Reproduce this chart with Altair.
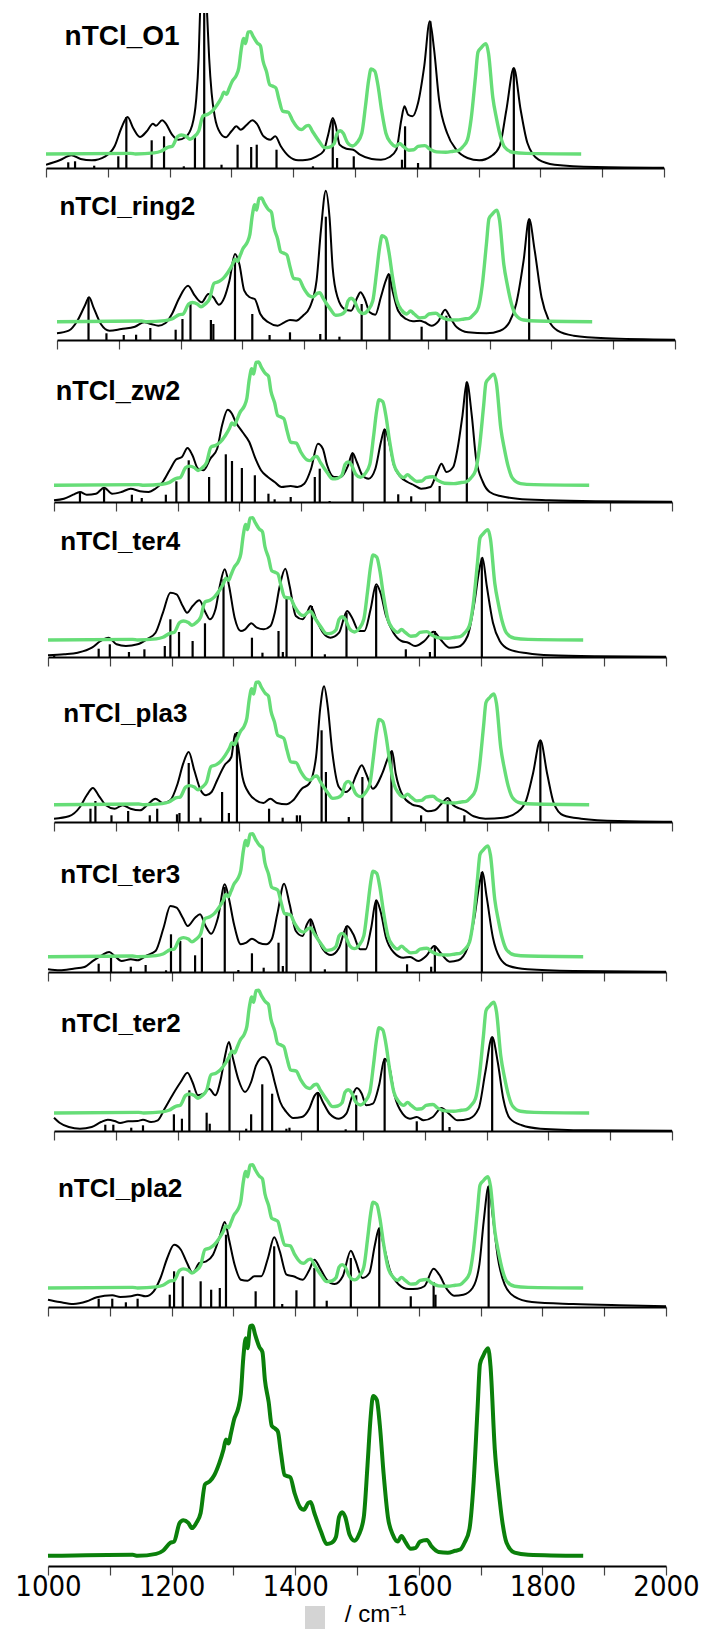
import altair as alt
import pandas as pd

# ---------------- experimental spectrum (bottom panel, a.u.) ----------------
exp_wn = [1000, 1137, 1145, 1175, 1186, 1198, 1204, 1213, 1219, 1227,
          1233, 1240, 1247, 1254, 1262, 1269, 1277, 1284, 1288, 1292,
          1296, 1301, 1308, 1312, 1316, 1320, 1323, 1327, 1331, 1335,
          1342, 1347, 1351, 1357, 1362, 1368, 1372, 1377, 1383, 1392,
          1399, 1409, 1414, 1421, 1425, 1431, 1442, 1451, 1459, 1466,
          1471, 1476, 1481, 1488, 1496, 1503, 1511, 1517, 1522, 1526,
          1532, 1537, 1543, 1550, 1558, 1566, 1572, 1578, 1587, 1595,
          1602, 1613, 1621, 1632, 1647, 1659, 1667, 1674, 1682, 1688,
          1695, 1699, 1704, 1712, 1716, 1723, 1729, 1735, 1742, 1755,
          1777, 1866]
exp_int = [0, 1, 0, 1.7, 4.3, 11, 12, 27.7, 30, 27.7,
           23.3, 27.7, 36, 60, 62.7, 67.7, 77.7, 89.3, 97.7, 94.3,
           102.7, 114.3, 124.3, 136, 166, 182.7, 174.3, 192.7, 193.3, 186,
           175.3, 171, 147.7, 129.3, 109.3, 106.7, 104.3, 86, 67.7, 66,
           52.7, 40, 38.7, 44.3, 45.3, 36, 20, 10, 11, 16,
           32.7, 36.7, 32.7, 17.7, 12.7, 17.7, 32.7, 76, 116, 134.3,
           131, 109.3, 69.3, 32.7, 17.7, 12, 16.7, 12, 6, 6.7,
           12, 13.3, 7.7, 3.3, 2.7, 4.3, 5.3, 11, 22.7, 56,
           122.7, 161, 167.7, 174.3, 159.3, 89.3, 56, 29.3, 11, 2.7,
           1, 0]

# ---------------- computed spectra ----------------
o1_wn = [1000, 1022, 1041, 1056, 1074, 1096, 1111, 1122, 1132, 1141,
         1152, 1163, 1173, 1178, 1188, 1194, 1204, 1214, 1226, 1236,
         1243, 1247, 1249, 1252, 1255, 1258, 1261, 1264, 1268, 1273,
         1282, 1291, 1300, 1308, 1315, 1325, 1334, 1341, 1352, 1363,
         1371, 1380, 1393, 1408, 1423, 1438, 1449, 1456, 1464, 1469,
         1475, 1486, 1497, 1508, 1527, 1542, 1556, 1567, 1575, 1580,
         1586, 1593, 1602, 1612, 1621, 1628, 1636, 1649, 1664, 1682,
         1701, 1720, 1734, 1745, 1757, 1768, 1779, 1797, 1823, 1890,
         2000]
o1_int = [3.3, 7.7, 12.7, 9, 7.7, 11.7, 21.7, 40, 51, 40,
          31, 36.7, 44.3, 42.3, 47.7, 44.3, 33.3, 28.3, 31, 41.7,
          68.3, 110, 150, 190, 210, 190, 150, 110, 75, 51.7,
          35, 30.7, 36.7, 41.7, 38.3, 43.3, 47.7, 44.3, 31.7, 28.3,
          31.7, 21.7, 11.7, 7.7, 8.3, 11.7, 16.7, 31.7, 50, 41.7,
          23.3, 19.3, 18.3, 13.3, 9, 8.3, 11, 18.3, 48.3, 61.7,
          53.3, 51.7, 65, 101.7, 146.7, 118.3, 68.3, 35, 18.3, 10,
          7.7, 11.7, 21.7, 58.3, 100, 58.3, 25, 8.3, 3.3, 1,
          0.3]
o1_stick_wn = [1036, 1047, 1078, 1117, 1130, 1171, 1191, 1223, 1241, 1256, 1284, 1310,
               1332, 1341, 1373, 1432, 1464, 1471, 1498, 1576, 1581, 1602, 1622, 1757]
o1_stick_int = [5.7, 6.7, 2.3, 11.7, 51, 27.7, 31.7, 1.7, 31.7, 210, 3.3, 23.3,
                21, 23.3, 18.3, 1.7, 48.3, 10, 11.7, 8.3, 41.7, 5, 146.7, 100]

ring2_wn = [1000, 1019, 1033, 1045, 1052, 1059, 1071, 1085, 1104, 1126,
            1141, 1152, 1164, 1175, 1186, 1197, 1212, 1223, 1234, 1245,
            1253, 1262, 1271, 1279, 1288, 1295, 1303, 1312, 1320, 1329,
            1342, 1357, 1368, 1377, 1387, 1398, 1409, 1420, 1427, 1435,
            1441, 1446, 1454, 1465, 1476, 1486, 1491, 1498, 1506, 1515,
            1524, 1532, 1537, 1543, 1552, 1565, 1576, 1587, 1595, 1606,
            1617, 1628, 1636, 1647, 1665, 1695, 1717, 1732, 1743, 1755,
            1764, 1773, 1784, 1796, 1810, 1836, 1888, 2000]
ring2_int = [6.7, 9.3, 19.3, 34.3, 42.7, 32.7, 16, 9.3, 11, 13.3,
             17.7, 16, 14.3, 16.7, 26, 41, 54.3, 44.3, 37.7, 46,
             42.7, 35.3, 42.7, 59.3, 86, 76, 49.3, 42.7, 41, 26,
             17.7, 14.3, 17.7, 20, 19.3, 24.3, 32.7, 59.3, 109.3, 149.3,
             122.7, 72.7, 42.7, 31, 29.3, 42.7, 47.7, 41, 27.7, 25.3,
             42.7, 59.3, 66, 49.3, 29.3, 21, 18.7, 19.3, 17.7, 14.3,
             18.7, 30.3, 22.7, 12.7, 7.7, 6.7, 9.3, 17.7, 36, 79.3,
             121, 89.3, 42.7, 19.3, 9.3, 4.3, 1.7, 0.3]
ring2_stick_wn = [1051, 1080, 1108, 1128, 1151, 1192, 1203, 1216, 1249, 1253, 1288,
                  1316, 1344, 1377, 1426, 1435, 1457, 1493, 1538, 1590, 1630, 1764]
ring2_stick_int = [42.7, 6.7, 5, 5.3, 12, 10.3, 21, 37.7, 20, 16, 77.7,
                   26, 5, 7.7, 6, 123.3, 3.3, 36, 66, 13.3, 24.3, 121]

zw2_wn = [1000, 1016, 1031, 1042, 1053, 1068, 1081, 1094, 1109, 1124,
          1139, 1153, 1164, 1176, 1187, 1198, 1207, 1216, 1224, 1233,
          1242, 1253, 1264, 1272, 1281, 1288, 1294, 1305, 1316, 1326,
          1335, 1346, 1357, 1368, 1383, 1394, 1405, 1416, 1427, 1435,
          1442, 1453, 1464, 1476, 1483, 1490, 1499, 1509, 1520, 1529,
          1535, 1542, 1550, 1561, 1572, 1583, 1594, 1609, 1620, 1627,
          1635, 1646, 1653, 1661, 1668, 1676, 1683, 1694, 1705, 1724,
          1750, 1801, 1876, 2000]
zw2_int = [1.7, 3.3, 7.3, 10, 7.3, 8.3, 14.3, 8.3, 10, 13.3,
           10.7, 10, 13.3, 20, 31.7, 42.7, 45, 54, 46.7, 33.3,
           31.7, 43.3, 53.3, 76.7, 92.3, 88.3, 80, 70, 60, 43.3,
           31.7, 25, 20, 15, 16, 15, 18.3, 33.3, 58.3, 53.3,
           36.7, 25, 25, 36.7, 49, 40, 26.7, 23.3, 33.3, 60,
           72.7, 60, 36.7, 25, 20, 16.7, 13.3, 15, 30, 38.3,
           30, 35, 53.3, 86.7, 120, 86.7, 43.3, 20, 10, 5.7,
           3.3, 1.7, 0.7, 0.3]
zw2_stick_wn = [1042, 1081, 1126, 1142, 1181, 1198, 1218, 1251, 1278, 1288, 1304, 1325,
                1347, 1357, 1383, 1422, 1430, 1446, 1483, 1535, 1557, 1578, 1624, 1668]
zw2_stick_int = [10, 13.3, 7.3, 4, 7.3, 20.7, 41.7, 25, 47.7, 41, 34, 26.7,
                 8.3, 2.7, 5, 25, 33.3, 1, 48.3, 72.7, 7.7, 5.7, 16, 120]

ter4_wn = [1000, 1026, 1048, 1071, 1085, 1098, 1111, 1126, 1145, 1160,
           1174, 1186, 1198, 1208, 1218, 1225, 1234, 1245, 1255, 1262,
           1271, 1278, 1286, 1293, 1302, 1312, 1319, 1329, 1338, 1349,
           1360, 1367, 1375, 1384, 1391, 1401, 1412, 1419, 1425, 1434,
           1445, 1457, 1471, 1484, 1492, 1503, 1512, 1522, 1531, 1538,
           1547, 1559, 1572, 1583, 1594, 1609, 1624, 1635, 1650, 1664,
           1679, 1690, 1698, 1703, 1710, 1720, 1731, 1746, 1776, 1813,
           1887, 2000]
ter4_int = [1.7, 2.7, 4.3, 9.3, 16, 19.3, 12.7, 11, 12.7, 17.7,
            24.3, 44.3, 64.3, 62.7, 51, 44.3, 51, 56.7, 44.3, 37.7,
            47.7, 71, 87.7, 71, 39.3, 26, 27.7, 33.7, 29.3, 27.7,
            31, 44.3, 71, 88.3, 71, 41, 37.7, 44.3, 51, 37.7,
            24.3, 19.3, 24.3, 46, 39.3, 26, 26, 47.7, 72.7, 64.3,
            41, 24.3, 16, 14.3, 11, 16, 25.3, 17.7, 9.3, 10.3,
            21, 54.3, 87.7, 99.3, 71, 34.3, 16, 7.7, 3.7, 1.7,
            0.7, 0.3]
ter4_stick_wn = [1010, 1082, 1100, 1131, 1156, 1189, 1198, 1212, 1234, 1254, 1284, 1330,
                 1347, 1373, 1380, 1386, 1427, 1448, 1483, 1531, 1579, 1618, 1626, 1702]
ter4_stick_int = [1.7, 8.3, 12.7, 5, 7.7, 11, 37.7, 25, 16, 33.7, 77.7, 19.3,
                  4.3, 26, 5, 61, 51, 2.7, 44.3, 71, 7.7, 5, 26, 99.3]

pla3_wn = [1000, 1024, 1042, 1053, 1063, 1072, 1084, 1098, 1111, 1124,
           1139, 1153, 1164, 1176, 1188, 1200, 1209, 1218, 1227, 1237,
           1246, 1255, 1264, 1276, 1287, 1293, 1298, 1305, 1316, 1327,
           1339, 1350, 1361, 1376, 1387, 1401, 1413, 1424, 1431, 1437,
           1443, 1450, 1461, 1472, 1481, 1490, 1498, 1505, 1516, 1531,
           1541, 1547, 1553, 1564, 1579, 1594, 1605, 1616, 1627, 1637,
           1646, 1657, 1664, 1679, 1698, 1727, 1750, 1764, 1775, 1787,
           1798, 1809, 1824, 1853, 1913, 2000]
pla3_int = [3.3, 5.7, 15, 26.7, 34, 26.7, 16.7, 13.3, 16.7, 13.3,
            11.7, 18.3, 23.3, 19, 21.7, 38.3, 58.3, 70, 51.7, 32.3,
            26.7, 30, 41.7, 56.7, 65, 88.3, 75, 45, 28.3, 21.7,
            19, 23.3, 19, 17.7, 21.7, 33.3, 38.3, 65, 115, 135.7,
            115, 71.7, 35, 30, 35, 48.3, 56.7, 48.3, 33.3, 48.3,
            65, 71, 48.3, 26.7, 17.7, 15, 10.7, 11.7, 18.3, 24,
            16.7, 13.3, 11.7, 5.7, 3.3, 4.3, 10, 21.7, 48.3, 81.7,
            48.3, 18.3, 6.7, 3.3, 1, 0.3]
pla3_stick_wn = [1059, 1067, 1093, 1120, 1155, 1167, 1199, 1203, 1218, 1237, 1272, 1283, 1296,
                 1348, 1370, 1393, 1398, 1433, 1440, 1477, 1499, 1546, 1594, 1637, 1664, 1787]
pla3_stick_int = [13.3, 21, 6.7, 11, 6.7, 13.3, 7.7, 9, 59, 4.3, 30, 9, 90,
                  13.3, 4.3, 6.7, 6.7, 91.7, 50, 5, 45, 70, 6.7, 21.7, 6.7, 81.7]

ter3_wn = [1000, 1019, 1041, 1059, 1074, 1087, 1099, 1108, 1119, 1134,
           1145, 1160, 1174, 1187, 1198, 1208, 1218, 1226, 1238, 1246,
           1255, 1264, 1275, 1286, 1293, 1301, 1312, 1321, 1330, 1341,
           1353, 1362, 1371, 1382, 1391, 1401, 1412, 1419, 1425, 1434,
           1445, 1458, 1471, 1484, 1494, 1505, 1514, 1523, 1531, 1538,
           1547, 1560, 1575, 1586, 1599, 1612, 1625, 1635, 1650, 1664,
           1679, 1690, 1698, 1703, 1710, 1720, 1731, 1746, 1776, 1850,
           2000]
ter3_int = [2.7, 1.7, 3.3, 5, 11.7, 16.7, 20, 16, 11, 12.7,
            11.7, 16.7, 21, 44.3, 66, 64.3, 54.3, 46, 54.3, 57.7,
            46, 38.3, 54.3, 87.7, 72.7, 47.7, 27.7, 29.3, 33.3, 29.3,
            27.7, 32.7, 57.7, 88.3, 67.7, 41, 36, 47.7, 52.7, 37.7,
            22.7, 17, 24.3, 46, 37.7, 22.7, 22.7, 44.3, 71.7, 61,
            34.3, 19.3, 14.3, 15, 11, 16, 26, 19.3, 10.3, 11.7,
            24.3, 54.3, 87.7, 100, 74.3, 34.3, 14.3, 6, 2.7, 1,
            0.3]
ter3_stick_wn = [1082, 1102, 1134, 1158, 1191, 1199, 1214, 1238, 1249, 1286, 1308, 1330,
                 1349, 1373, 1380, 1386, 1425, 1448, 1483, 1531, 1581, 1620, 1626, 1702]
ter3_stick_int = [8.3, 15, 5.3, 7, 1.7, 37.7, 31, 16.7, 34.3, 85, 2, 18.7,
                  4.3, 29.3, 6, 59.3, 52.7, 2.7, 46, 71.7, 7.7, 5.3, 26, 100]

ter2_wn = [1000, 1009, 1024, 1042, 1061, 1076, 1087, 1098, 1107, 1120,
           1135, 1144, 1157, 1168, 1179, 1193, 1205, 1216, 1224, 1233,
           1242, 1251, 1261, 1270, 1277, 1283, 1289, 1298, 1309, 1319,
           1327, 1339, 1350, 1357, 1366, 1376, 1387, 1401, 1413, 1422,
           1427, 1435, 1446, 1461, 1473, 1483, 1490, 1498, 1505, 1516,
           1526, 1535, 1542, 1551, 1564, 1576, 1587, 1598, 1613, 1627,
           1639, 1653, 1672, 1687, 1698, 1709, 1718, 1727, 1738, 1757,
           1787, 1861, 2000]
ter2_int = [13.3, 8.3, 4, 2.3, 4, 9, 11.3, 10, 8, 9.7,
            10, 11.3, 9, 10.7, 22.3, 37.3, 49, 58.3, 49, 35.7,
            37.3, 42.3, 35.7, 52.3, 75.7, 89, 74, 52.3, 39, 49,
            65.7, 74, 65.7, 49, 29, 19, 13, 14, 22.3, 35.7,
            38.3, 29, 17.3, 12.3, 17.3, 35.7, 43, 37.3, 25.7, 27.3,
            45.7, 72.3, 65.7, 35.7, 17.3, 12.3, 14, 10.7, 14, 23,
            17.3, 10.7, 12.3, 22.3, 59, 94, 69, 32.3, 12.3, 5.7,
            2.3, 0.7, 0.3]
ter2_stick_wn = [1083, 1096, 1125, 1144, 1194, 1207, 1219, 1247, 1252, 1284, 1311, 1319,
                 1337, 1353, 1376, 1381, 1427, 1472, 1489, 1535, 1587, 1629, 1640, 1709]
ter2_stick_int = [6.3, 6.3, 3.3, 5.7, 16.7, 12.3, 40.7, 18.3, 7.3, 77.3, 2.3, 16.7,
                  46.7, 37.3, 2.3, 3.3, 39, 1.7, 35.7, 72.3, 9.7, 22.3, 4, 94]

pla2_wn = [1000, 1019, 1041, 1063, 1079, 1104, 1117, 1134, 1145, 1158,
           1171, 1182, 1193, 1204, 1215, 1225, 1234, 1245, 1256, 1267,
           1278, 1286, 1293, 1302, 1312, 1323, 1334, 1345, 1356, 1366,
           1375, 1386, 1397, 1412, 1423, 1431, 1440, 1451, 1464, 1477,
           1490, 1497, 1509, 1520, 1529, 1536, 1543, 1553, 1568, 1583,
           1598, 1609, 1624, 1633, 1646, 1657, 1672, 1687, 1698, 1705,
           1713, 1720, 1728, 1739, 1754, 1783, 1850, 1924, 2000]
pla2_int = [7.3, 5, 3, 5.7, 9.7, 11.7, 10, 10.7, 12.3, 10.7,
            15.7, 29, 49, 62.3, 57.3, 44, 34, 44, 45.7, 52.3,
            70.7, 85, 67.3, 42.3, 27.3, 26.3, 30.7, 30.7, 49, 69.7,
            55.7, 32.3, 30.7, 27.3, 37.3, 47.3, 39, 27.3, 23, 30.7,
            56.3, 47.3, 29, 34, 62.3, 79, 62.3, 37.3, 22.3, 18,
            18.3, 20.7, 38.3, 32.3, 17.3, 11.3, 12.3, 19, 42.3, 85.7,
            120.7, 89, 49, 22.3, 10.7, 5, 3, 1.7, 0.7]
pla2_stick_wn = [1082, 1104, 1126, 1145, 1197, 1204, 1218, 1247, 1264, 1278, 1288, 1336,
                 1366, 1379, 1402, 1431, 1451, 1490, 1536, 1587, 1624, 1627, 1713]
pla2_stick_int = [8.3, 8.3, 4.7, 8.3, 12.3, 35.7, 30.7, 25.7, 17.3, 19, 72.3, 15.7,
                  60.7, 3, 16.7, 39, 6.3, 49, 79, 10.7, 25, 12.3, 120.7]

panel_names = ["nTCl_O1", "nTCl_ring2", "nTCl_zw2", "nTCl_ter4",
               "nTCl_pla3", "nTCl_ter3", "nTCl_ter2", "nTCl_pla2"]
label_wn = [1030, 1004, 1003, 1020, 1015, 1020, 1011, 1016]
label_int = [131, 133, 110, 115, 108, 97, 107, 118]
label_size = [28, 26, 27, 26, 26, 26, 26, 26]
# scaling / baseline of the experimental trace overlaid in each panel
exp_overlay_scale = [0.633, 0.640, 0.638, 0.633, 0.635, 0.636, 0.635, 0.638]
exp_overlay_offset = [14, 18.3, 16.7, 17, 17.3, 15.3, 18, 19]
bottom_exp_offset = 8.5

curves = [(o1_wn, o1_int), (ring2_wn, ring2_int), (zw2_wn, zw2_int), (ter4_wn, ter4_int),
          (pla3_wn, pla3_int), (ter3_wn, ter3_int), (ter2_wn, ter2_int), (pla2_wn, pla2_int)]
sticks = [(o1_stick_wn, o1_stick_int), (ring2_stick_wn, ring2_stick_int),
          (zw2_stick_wn, zw2_stick_int), (ter4_stick_wn, ter4_stick_int),
          (pla3_stick_wn, pla3_stick_int), (ter3_stick_wn, ter3_stick_int),
          (ter2_stick_wn, ter2_stick_int), (pla2_stick_wn, pla2_stick_int)]

# ---------------- layout ----------------
PLOT_W = 630          # common plot box width
AXIS_LEN = 618        # length of each panel's 1000-2000 axis
BASE_LEFT = 46
LEFTS = [46, 57, 54, 48, 54, 48, 54, 48, 48]
HEIGHTS = [155, 162, 152, 145, 155, 140, 149, 166, 236]
BOTTOM_DOMAIN = 198.1
TICKS = list(range(1000, 2001, 100))
LIGHT_GREEN = "#66DD77"
DARK_GREEN = "#0B800B"


def xscale(i):
    off = LEFTS[i] - BASE_LEFT
    return alt.Scale(domain=[1000, 2000], range=[off, off + AXIS_LEN], nice=False, zero=False)


plain_axis = alt.Axis(values=TICKS, labels=False, title=None, grid=False,
                      domainColor="#000000", domainWidth=2, tickColor="#444444",
                      tickWidth=1.2, tickSize=9)


def align_layer(h):
    return alt.Chart(pd.DataFrame({"k": [0]})).mark_text(
        text=".", opacity=0, align="left").encode(x=alt.value(-BASE_LEFT), y=alt.value(h / 2))


panels = []
for i, name in enumerate(panel_names):
    h = HEIGHTS[i]
    xs = xscale(i)
    ys = alt.Scale(domain=[0, h], nice=False, zero=False)
    cw, ci = curves[i]
    sw, si = sticks[i]
    df_curve = pd.DataFrame({"wn": cw, "val": ci})
    df_stick = pd.DataFrame({"wn": sw, "val": si})
    df_exp = pd.DataFrame({"wn": exp_wn,
                           "val": [exp_overlay_offset[i] + v * exp_overlay_scale[i] for v in exp_int]})
    df_lab = pd.DataFrame({"wn": [label_wn[i]], "val": [label_int[i]], "t": [name]})

    xenc = alt.X("wn:Q", scale=xs, axis=plain_axis)
    yenc = alt.Y("val:Q", scale=ys, axis=None)

    stick_l = alt.Chart(df_stick).mark_rule(color="#000000", strokeWidth=2.2, clip=True).encode(
        x=xenc, y=yenc, y2=alt.datum(0))
    curve_l = alt.Chart(df_curve).mark_line(color="#000000", strokeWidth=2, interpolate="monotone",
                                            clip=True).encode(x=xenc, y=yenc)
    exp_l = alt.Chart(df_exp).mark_line(color=LIGHT_GREEN, strokeWidth=3.4, interpolate="monotone",
                                        clip=True).encode(x=xenc, y=yenc)
    lab_l = alt.Chart(df_lab).mark_text(font="Liberation Sans", fontSize=label_size[i], fontWeight="bold",
                                        align="left", baseline="middle", color="#000000").encode(
        x=xenc, y=yenc, text="t:N")
    panels.append(alt.layer(stick_l, curve_l, exp_l, lab_l, align_layer(h)).properties(
        width=PLOT_W, height=h))

# bottom experimental panel
hb = HEIGHTS[8]
ysb = alt.Scale(domain=[0, BOTTOM_DOMAIN], nice=False, zero=False)
bottom_axis = alt.Axis(values=TICKS, grid=False, domainColor="#000000", domainWidth=2,
                       tickColor="#444444", tickWidth=1.2, tickSize=9,
                       labelExpr="datum.value % 200 === 0 ? format(datum.value, 'd') : ''",
                       labelFont="Liberation Sans Narrow, Arial Narrow, DejaVu Sans Condensed, Liberation Sans",
                       labelFontSize=29, labelColor="#000000",
                       labelPadding=-3, labelFlush=False,
                       title="/ cm⁻¹", titleFont="Liberation Sans", titleFontSize=24,
                       titleFontWeight="normal", titleColor="#000000",
                       titleX=329, titleY=55, titleAlign="center", titleBaseline="alphabetic")
df_bexp = pd.DataFrame({"wn": exp_wn, "val": [bottom_exp_offset + v for v in exp_int]})
bexp = alt.Chart(df_bexp).mark_line(color=DARK_GREEN, strokeWidth=4, interpolate="monotone").encode(
    x=alt.X("wn:Q", scale=xscale(8), axis=bottom_axis), y=alt.Y("val:Q", scale=ysb, axis=None))
placeholder = alt.Chart(pd.DataFrame({"k": [0]})).mark_rect(color="#d4d4d4").encode(
    x=alt.value(259), x2=alt.value(279), y=alt.value(276), y2=alt.value(306))
panels.append(alt.layer(bexp, placeholder, align_layer(hb)).properties(width=PLOT_W, height=hb))

chart = alt.vconcat(*panels, spacing=0).properties(
    padding={"left": 0, "top": 13, "right": 0, "bottom": 0},
    background="white",
).configure_view(stroke=None)

chart.save("out.html", embed_options={"renderer": "svg", "actions": False})
